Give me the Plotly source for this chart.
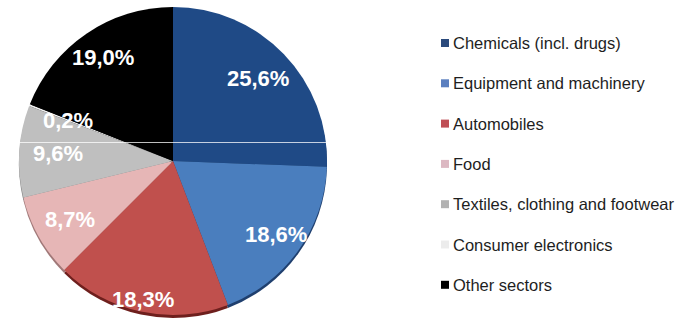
import math
import plotly.graph_objects as go

# Sector shares of the total (percent)
sectors = [
    "Chemicals (incl. drugs)",
    "Equipment and machinery",
    "Automobiles",
    "Food",
    "Textiles, clothing and footwear",
    "Consumer electronics",
    "Other sectors",
]
shares = [25.6, 18.6, 18.3, 8.7, 9.6, 0.2, 19.0]

colors = ["#1f4a86", "#4a7ebe", "#c0504d", "#e6b6b6", "#bfbfbf", "#f0f0f0", "#000000"]
rim_colors = ["#0f2a52", "#1f3f6e", "#6e1f1d", "#a07878", "#808080", "#b0b0b0", "#000000"]
legend_colors = ["#2b4a7c", "#5a7fbf", "#bf4f56", "#dcb8c2", "#b2b2b2", "#ececec", "#000000"]

# radial position of each percentage label, as a fraction of the radius
label_radius = [0.77, 0.82, 0.92, 0.77, 0.75, 0.73, 0.81]

W, H = 682, 327
cx, cy, R = 173.0, 161.0, 154.0  # pie centre and radius in pixels


def px_domain(cx, cy, r):
    return dict(x=[(cx - r) / W, (cx + r) / W], y=[1 - (cy + r) / H, 1 - (cy - r) / H])


fig = go.Figure()

# darker copy slightly lower gives the rim along the bottom edge
fig.add_trace(go.Pie(
    labels=sectors, values=shares, sort=False, direction="clockwise", rotation=0,
    marker=dict(colors=rim_colors, line=dict(width=0)),
    textinfo="none", hoverinfo="skip", showlegend=False,
    domain=px_domain(cx, cy + 3, R),
))

fig.add_trace(go.Pie(
    labels=sectors, values=shares, sort=False, direction="clockwise", rotation=0,
    marker=dict(colors=colors, line=dict(width=0)),
    textinfo="none", showlegend=False,
    domain=px_domain(cx, cy, R),
))

annotations = []
total = sum(shares)
cum = 0.0
for v, rf in zip(shares, label_radius):
    mid = (cum + v / 2) / total * 2 * math.pi
    cum += v
    x = cx + rf * R * math.sin(mid)
    y = cy - rf * R * math.cos(mid)
    annotations.append(dict(
        x=x / W, y=1 - y / H, xref="paper", yref="paper",
        text=f"{v:.1f}%".replace(".", ","), showarrow=False,
        font=dict(family="Liberation Sans, Arial", size=22, color="white", weight="bold"),
        xanchor="center", yanchor="middle",
    ))

# legend: coloured squares and sector names
shapes = []
leg_x, leg_y0, leg_dy, sq = 441, 43, 40.3, 8
for i, (name, c) in enumerate(zip(sectors, legend_colors)):
    yc = leg_y0 + i * leg_dy
    shapes.append(dict(
        type="rect", xref="paper", yref="paper",
        x0=leg_x / W, x1=(leg_x + sq) / W,
        y0=1 - (yc + sq / 2) / H, y1=1 - (yc - sq / 2) / H,
        fillcolor=c, line=dict(width=0),
    ))
    annotations.append(dict(
        x=(leg_x + sq + 2) / W, y=1 - yc / H, xref="paper", yref="paper",
        text=name, showarrow=False, xanchor="left", yanchor="middle",
        font=dict(family="Liberation Sans, Arial", size=16.5, color="#1e1e1e"),
    ))

# thin light line across the pie
shapes.append(dict(
    type="line", xref="paper", yref="paper", layer="above",
    x0=(cx - R) / W, x1=(cx + R) / W, y0=1 - 142.5 / H, y1=1 - 142.5 / H,
    line=dict(color="rgba(255,255,255,0.75)", width=1),
))

fig.update_layout(
    width=W, height=H,
    margin=dict(l=0, r=0, t=0, b=0),
    paper_bgcolor="white", plot_bgcolor="white",
    annotations=annotations, shapes=shapes,
    showlegend=False,
)

fig.write_html("out.html")
